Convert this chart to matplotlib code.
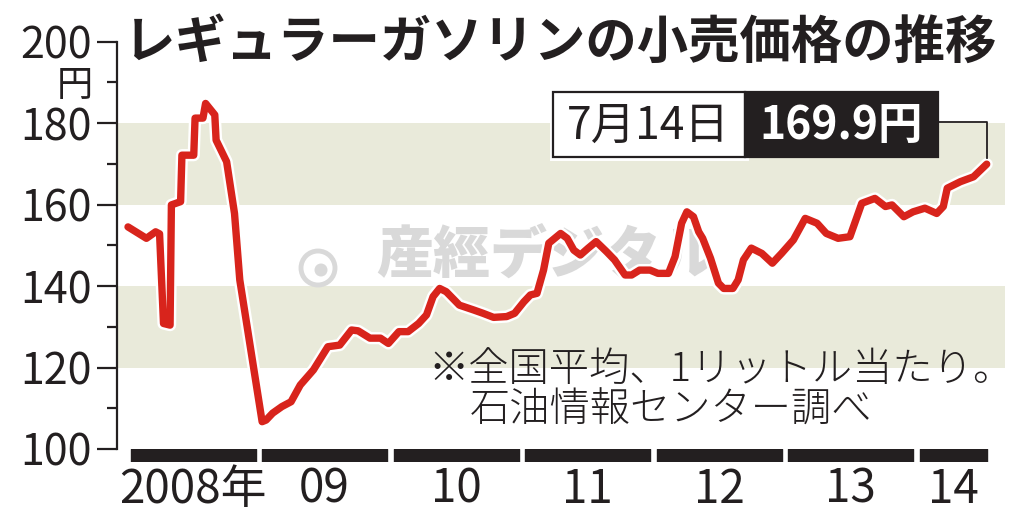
import matplotlib
matplotlib.use("Agg")
import matplotlib.pyplot as plt
import matplotlib.patheffects as pe
from matplotlib.patches import Rectangle, Circle

plt.rcParams['font.family'] = ['Noto Sans CJK JP', 'DejaVu Sans']

# weekly-ish readings of the regular gasoline retail price (yen / litre)
dates = [2008.00, 2008.14, 2008.21, 2008.24, 2008.27, 2008.32, 2008.33, 2008.40,
         2008.41, 2008.50, 2008.51, 2008.57, 2008.59, 2008.66, 2008.67, 2008.75,
         2008.81, 2008.85, 2008.93, 2009.02, 2009.05, 2009.10, 2009.17, 2009.24,
         2009.31, 2009.41, 2009.52, 2009.61, 2009.70, 2009.75, 2009.84, 2009.92,
         2009.98, 2010.06, 2010.13, 2010.21, 2010.27, 2010.32, 2010.37, 2010.42,
         2010.52, 2010.63, 2010.70, 2010.78, 2010.88, 2010.94, 2011.01, 2011.06,
         2011.11, 2011.16, 2011.20, 2011.29, 2011.34, 2011.39, 2011.44, 2011.50,
         2011.56, 2011.64, 2011.70, 2011.78, 2011.83, 2011.89, 2011.97, 2012.03,
         2012.11, 2012.16, 2012.21, 2012.25, 2012.30, 2012.34, 2012.37, 2012.43,
         2012.49, 2012.53, 2012.60, 2012.64, 2012.68, 2012.74, 2012.82, 2012.90,
         2012.97, 2013.06, 2013.15, 2013.24, 2013.31, 2013.40, 2013.49, 2013.58,
         2013.68, 2013.76, 2013.81, 2013.90, 2013.97, 2014.06, 2014.15, 2014.20,
         2014.23, 2014.33, 2014.43, 2014.53]
prices = [154.5, 151.7, 153.3, 152.8, 130.8, 130.4, 159.9, 160.7,
          172.1, 172.1, 181.2, 181.2, 184.8, 182.0, 175.8, 170.5,
          157.8, 141.5, 125.1, 106.7, 107.1, 108.8, 110.4, 111.6,
          115.7, 119.4, 125.1, 125.5, 129.2, 129.0, 127.2, 127.2,
          125.9, 128.8, 128.8, 130.8, 132.9, 137.4, 139.4, 138.6,
          135.3, 134.1, 133.3, 132.3, 132.5, 133.3, 136.1, 137.8,
          138.2, 143.9, 150.5, 152.9, 151.7, 148.8, 147.6, 149.3,
          150.9, 148.4, 146.4, 142.7, 142.7, 143.9, 143.9, 143.1,
          143.1, 147.2, 155.4, 158.2, 157.0, 153.3, 151.7, 146.8,
          140.7, 139.4, 139.4, 141.5, 146.4, 149.3, 148.0, 145.6,
          148.0, 151.3, 156.6, 155.4, 152.9, 151.7, 152.1, 160.3,
          161.5, 159.5, 159.9, 157.0, 158.2, 159.1, 157.8, 159.5,
          164.0, 165.6, 166.8, 169.9]

years = [2008, 2009, 2010, 2011, 2012, 2013, 2014]
year_labels = ['2008年', '09', '10', '11', '12', '13', '14']
bands = [(120, 140), (160, 180)]

title = 'レギュラーガソリンの小売価格の推移'
note1 = '※全国平均、1リットル当たり。'
note2 = '石油情報センター調べ'
last_label = '7月14日'
last_value = '169.9円'

INK = '#231f20'
RED = '#d8241c'
BAND = '#e9eada'
WM = '#d9d9d9'

W, H = 1024, 523
def fx(px):
    return px / W
def fy(py):
    return 1 - py / H

x0 = 2008 + (117 - 128) / 131.5
x1 = 2008 + (1005 - 128) / 131.5

fig = plt.figure(figsize=(W / 100, H / 100), dpi=100)
ax = fig.add_axes([fx(117), fy(449), fx(1005) - fx(117), (449 - 41.5) / H])
ax.set_xlim(x0, x1)
ax.set_ylim(100, 200)

for lo, hi in bands:
    ax.axhspan(lo, hi, color=BAND, lw=0, zorder=0)

# watermark
ax.text(0.485, 0.47, '産經デジタル', transform=ax.transAxes, fontsize=41,
        weight='heavy', color=WM, ha='center', va='center', zorder=1)
fig.add_artist(Circle((3.18, 5.23 - 2.68), 0.17, transform=fig.dpi_scale_trans,
                      fill=False, ec=WM, lw=3.5, zorder=1))
fig.add_artist(Circle((3.21, 5.23 - 2.70), 0.065, transform=fig.dpi_scale_trans,
                      fc=WM, ec='none', zorder=1))

ax.plot(dates, prices, color=RED, lw=5.3, solid_joinstyle='round',
        solid_capstyle='round', zorder=3,
        path_effects=[pe.Stroke(linewidth=8.8, foreground='white'), pe.Normal()])

for s in ['top', 'right', 'bottom']:
    ax.spines[s].set_visible(False)
ax.spines['left'].set_linewidth(1.6)
ax.spines['left'].set_color(INK)
ax.set_yticks(range(100, 201, 20))
ax.set_yticks(range(110, 200, 20), minor=True)
ax.tick_params(axis='y', which='major', length=14.4, width=1.6, color=INK,
               labelsize=31, labelcolor=INK, pad=4)
ax.tick_params(axis='y', which='minor', length=7.2, width=1.6, color=INK)
ax.tick_params(axis='x', bottom=False, labelbottom=False)
for lab in ax.get_yticklabels():
    if lab.get_text() == '200':
        lab.set_y(201.5)
fig.text(fx(75), fy(86), '円', fontsize=26, color=INK, ha='center', va='center')

# year bars under the plot
bax = fig.add_axes([fx(117), fy(462), fx(1005) - fx(117), 13 / H])
bax.set_xlim(x0, x1)
bax.set_ylim(0, 1)
spans = []
for y in years:
    end = min(y + 0.97, dates[-1])
    spans.append((y + 0.02, end - y - 0.02))
bax.broken_barh(spans, (0, 1), color=INK)
bax.axis('off')
for (s, w), lab in zip(spans, year_labels):
    bax.text(s + w / 2, -2.1, lab, fontsize=33, color=INK, ha='center',
             va='center', transform=bax.get_xaxis_transform())

# title
fig.text(fx(124), fy(42), title, fontsize=37, weight='bold', color=INK,
         ha='left', va='center')

# latest value callout
bx0, bmid, bx1 = 2011.23, 2012.69, 2014.16
by0, by1 = 171.7, 187.6
ax.add_patch(Rectangle((bx0, by0), bmid - bx0, by1 - by0, fc='white', ec=INK,
                       lw=1.6, zorder=5,
                       path_effects=[pe.Stroke(linewidth=5, foreground='white'), pe.Normal()]))
ax.add_patch(Rectangle((bmid, by0), bx1 - bmid, by1 - by0, fc=INK, ec=INK,
                       lw=1.6, zorder=5))
ax.text((bx0 + bmid) / 2, (by0 + by1) / 2 - 0.4, last_label, fontsize=32,
        color=INK, ha='center', va='center', zorder=6)
ax.text((bmid + bx1) / 2, (by0 + by1) / 2 - 0.4, last_value, fontsize=32,
        weight='bold', color='white', ha='center', va='center', zorder=6)
ymid = 180.2
ax.plot([bx1, dates[-1], dates[-1]], [ymid, ymid, prices[-1] + 1.5],
        color=INK, lw=1.3, zorder=4)

# notes
fig.text(fx(428), fy(370), note1, fontsize=29, weight='light', color=INK,
         ha='left', va='center')
fig.text(fx(470), fy(411), note2, fontsize=29, weight='light', color=INK,
         ha='left', va='center')

fig.savefig('out.png', dpi=100, facecolor='white')
